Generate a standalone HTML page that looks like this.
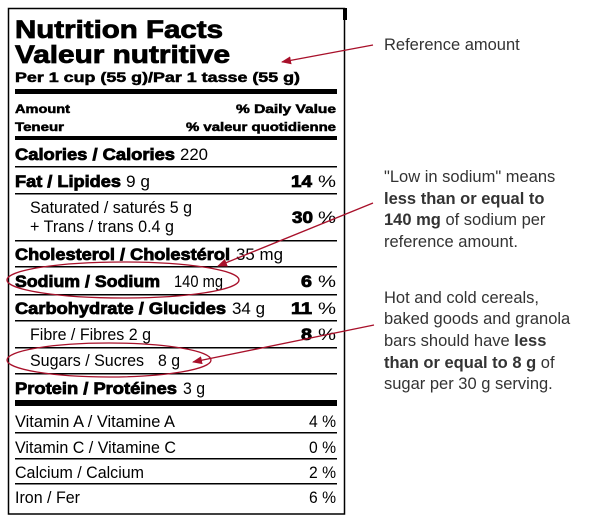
<!DOCTYPE html>
<html><head><style>
body{margin:0;width:600px;height:523px;background:#fff;position:relative;font-family:"Liberation Sans",Arial,sans-serif;overflow:hidden}
.n{position:absolute;white-space:nowrap;color:#333;font-size:16.5px;line-height:1;left:384px}
svg text{font-family:"Liberation Sans",Arial,sans-serif}
.h{font-weight:bold;stroke:#000;stroke-width:0.8px}
.hs{font-weight:bold;stroke:#000;stroke-width:0.5px}
</style></head><body>
<svg width="600" height="523" style="position:absolute;left:0;top:0" lengthAdjust="spacingAndGlyphs">
<rect x="8.5" y="8.5" width="336" height="505.5" fill="none" stroke="#000" stroke-width="1.5"/>
<rect x="343" y="8" width="4" height="12" fill="#000"/>
<g fill="#000">
<text class="h" x="15" y="38" font-size="25" textLength="208" lengthAdjust="spacingAndGlyphs">Nutrition Facts</text>
<text class="h" x="15" y="63" font-size="25" textLength="215" lengthAdjust="spacingAndGlyphs">Valeur nutritive</text>
<text class="hs" x="15" y="82" font-size="13.5" textLength="285" lengthAdjust="spacingAndGlyphs">Per 1 cup (55 g)/Par 1 tasse (55 g)</text>
<rect x="15" y="89" width="322" height="5"/>
<text class="hs" x="15" y="113" font-size="11.5" textLength="55" lengthAdjust="spacingAndGlyphs">Amount</text>
<text class="hs" x="15" y="131" font-size="11.5" textLength="49" lengthAdjust="spacingAndGlyphs">Teneur</text>
<text class="hs" x="236" y="113" font-size="11.5" textLength="100" lengthAdjust="spacingAndGlyphs">% Daily Value</text>
<text class="hs" x="186" y="131" font-size="11.5" textLength="150" lengthAdjust="spacingAndGlyphs">% valeur quotidienne</text>
<rect x="15" y="136" width="322" height="4"/>

<g font-size="17">
<text class="h" x="15" y="160" textLength="160" lengthAdjust="spacingAndGlyphs">Calories / Calories</text>
<text x="180" y="160" textLength="28" lengthAdjust="spacingAndGlyphs">220</text>
<rect x="15" y="166" width="322" height="1.5"/>
<text class="h" x="15" y="187" textLength="106" lengthAdjust="spacingAndGlyphs">Fat / Lipides</text>
<text x="126" y="187" textLength="24" lengthAdjust="spacingAndGlyphs">9 g</text>
<text class="h" x="291" y="187" textLength="21" lengthAdjust="spacingAndGlyphs">14</text>
<text x="318" y="187" textLength="18" lengthAdjust="spacingAndGlyphs">%</text>
<rect x="15" y="193" width="322" height="1.5"/>
<text x="30" y="213" textLength="162" lengthAdjust="spacingAndGlyphs">Saturated / saturés 5 g</text>
<text x="30" y="232" textLength="144" lengthAdjust="spacingAndGlyphs">+ Trans / trans 0.4 g</text>
<text class="h" x="292" y="223" textLength="21" lengthAdjust="spacingAndGlyphs">30</text>
<text x="318" y="223" textLength="18" lengthAdjust="spacingAndGlyphs">%</text>
<rect x="15" y="240" width="322" height="1.5"/>
<text class="h" x="15" y="260" textLength="215" lengthAdjust="spacingAndGlyphs">Cholesterol / Cholestérol</text>
<text x="236" y="260" textLength="47" lengthAdjust="spacingAndGlyphs">35 mg</text>
<rect x="15" y="266" width="322" height="1.5"/>
<text class="h" x="15" y="287" textLength="145" lengthAdjust="spacingAndGlyphs">Sodium / Sodium</text>
<text x="174" y="287" textLength="49" lengthAdjust="spacingAndGlyphs">140 mg</text>
<text class="h" x="301" y="287" textLength="11" lengthAdjust="spacingAndGlyphs">6</text>
<text x="318" y="287" textLength="18" lengthAdjust="spacingAndGlyphs">%</text>
<rect x="15" y="294" width="322" height="1.5"/>
<text class="h" x="15" y="314" textLength="211" lengthAdjust="spacingAndGlyphs">Carbohydrate / Glucides</text>
<text x="232" y="314" textLength="33" lengthAdjust="spacingAndGlyphs">34 g</text>
<text class="h" x="291" y="314" textLength="21" lengthAdjust="spacingAndGlyphs">11</text>
<text x="318" y="314" textLength="18" lengthAdjust="spacingAndGlyphs">%</text>
<rect x="15" y="320" width="322" height="1.5"/>
<text x="30" y="340" textLength="121" lengthAdjust="spacingAndGlyphs">Fibre / Fibres 2 g</text>
<text class="h" x="301" y="340" textLength="11" lengthAdjust="spacingAndGlyphs">8</text>
<text x="318" y="340" textLength="18" lengthAdjust="spacingAndGlyphs">%</text>
<rect x="15" y="347" width="322" height="1.5"/>
<text x="30" y="366" textLength="114" lengthAdjust="spacingAndGlyphs">Sugars / Sucres</text>
<text x="158" y="366" textLength="22" lengthAdjust="spacingAndGlyphs">8 g</text>
<rect x="15" y="373" width="322" height="1.5"/>
<text class="h" x="15" y="394" textLength="162" lengthAdjust="spacingAndGlyphs">Protein / Protéines</text>
<text x="183" y="394" textLength="22" lengthAdjust="spacingAndGlyphs">3 g</text>
<rect x="15" y="400" width="322" height="6"/>
<text x="15" y="427" textLength="160" lengthAdjust="spacingAndGlyphs">Vitamin A / Vitamine A</text>
<text x="309" y="427" textLength="27" lengthAdjust="spacingAndGlyphs">4 %</text>
<rect x="15" y="432" width="322" height="1.5"/>
<text x="15" y="453" textLength="161" lengthAdjust="spacingAndGlyphs">Vitamin C / Vitamine C</text>
<text x="309" y="453" textLength="27" lengthAdjust="spacingAndGlyphs">0 %</text>
<rect x="15" y="458" width="322" height="1.5"/>
<text x="15" y="478" textLength="129" lengthAdjust="spacingAndGlyphs">Calcium / Calcium</text>
<text x="309" y="478" textLength="27" lengthAdjust="spacingAndGlyphs">2 %</text>
<rect x="15" y="483" width="322" height="1.5"/>
<text x="15" y="503" textLength="65" lengthAdjust="spacingAndGlyphs">Iron / Fer</text>
<text x="309" y="503" textLength="27" lengthAdjust="spacingAndGlyphs">6 %</text>
</g>
</g>
<defs><marker id="a" markerWidth="10" markerHeight="8" refX="9" refY="4" orient="auto" markerUnits="userSpaceOnUse"><path d="M0,0 L10,4 L0,8 Z" fill="#a8102a" stroke="none"/></marker></defs>
<g fill="none" stroke="#a8102a" stroke-width="1.3">
<line x1="373" y1="45" x2="282" y2="62" marker-end="url(#a)"/>
<line x1="373" y1="203" x2="218" y2="266" marker-end="url(#a)"/>
<line x1="374" y1="325" x2="193" y2="362" marker-end="url(#a)"/>
<ellipse cx="123" cy="280" rx="116" ry="18"/>
<ellipse cx="109" cy="360" rx="102" ry="17"/>
</g>
</svg>
<div class="n" style="top:37px">Reference amount</div>
<div class="n" style="top:169px">"Low in sodium" means</div>
<div class="n" style="top:191px"><b>less than or equal to</b></div>
<div class="n" style="top:212px"><b>140 mg</b> of sodium per</div>
<div class="n" style="top:234px">reference amount.</div>
<div class="n" style="top:290px">Hot and cold cereals,</div>
<div class="n" style="top:311px">baked goods and granola</div>
<div class="n" style="top:333px">bars should have <b>less</b></div>
<div class="n" style="top:355px"><b>than or equal to 8 g</b> of</div>
<div class="n" style="top:376px">sugar per 30 g serving.</div>
</body></html>
